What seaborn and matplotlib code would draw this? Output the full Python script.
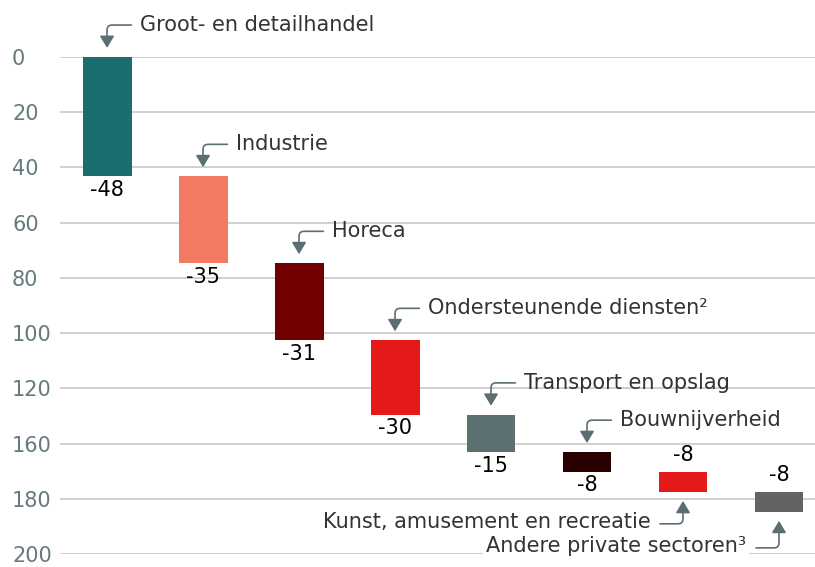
import numpy as np
import matplotlib
matplotlib.use("Agg")
import matplotlib.pyplot as plt
import seaborn as sns

sns.set_style("white")
plt.rcParams['font.family'] = ['DejaVu Sans']

# Data
sectors = ['Groot- en detailhandel', 'Industrie', 'Horeca', 'Ondersteunende diensten²',
           'Transport en opslag', 'Bouwnijverheid', 'Kunst, amusement en recreatie',
           'Andere private sectoren³']
values = [-48, -35, -31, -30, -15, -8, -8, -8]
colors = ['#1b6e6e', '#f27a62', '#720000', '#e3191b', '#5c6f71', '#2b0000', '#e3191b', '#636363']
tick_labels = ['0', '20', '40', '60', '80', '100', '120', '160', '180', '200']
# which side the sector label / value label sits on
label_below = [False, False, False, False, False, False, True, True]
value_above = [False, False, False, False, False, False, True, True]

mags = np.abs(values)
starts = np.concatenate([[0], np.cumsum(mags)[:-1]])
ends = starts + mags

fig = plt.figure(figsize=(8.15, 5.67), dpi=100)
ax = fig.add_axes([60 / 815, 13 / 567, 755 / 815, 497 / 567])

sns.barplot(x=list(range(len(sectors))), y=mags, bottom=starts, width=0.51,
            color=colors[0], errorbar=None, ax=ax, zorder=2)
for patch, c in zip(ax.patches, colors):
    patch.set_facecolor(c)
    patch.set_edgecolor('none')

ax.set_ylim(200, 0)
ax.set_xlim(-0.49, len(sectors) - 0.625)
ax.set_yticks(np.linspace(0, 200, len(tick_labels)))
ax.set_yticklabels(tick_labels)
ax.set_xticks([])
ax.set_xlabel('')
ax.set_ylabel('')
ax.yaxis.grid(True, color='#c8c8c8', linewidth=1.2, zorder=0)
ax.set_axisbelow(True)
for s in ax.spines.values():
    s.set_visible(False)
ax.tick_params(axis='y', length=0, pad=34.5, labelsize=15, labelcolor='#647a7d')
for t in ax.get_yticklabels():
    t.set_ha('left')

FS = 15
arrow_color = '#5b6f73'
aprops = dict(arrowstyle='-|>,head_length=0.6,head_width=0.36', mutation_scale=12,
              color=arrow_color, lw=1.2, shrinkA=0, shrinkB=6.5,
              connectionstyle='angle,angleA=0,angleB=90,rad=5')

for i, name in enumerate(sectors):
    if not label_below[i]:
        ax.annotate('', xy=(i, starts[i]), xytext=(17.5, 23), textcoords='offset points',
                    arrowprops=aprops, annotation_clip=False)
        ax.annotate(name, xy=(i, starts[i]), xytext=(24, 23), textcoords='offset points',
                    ha='left', va='center', fontsize=FS, color='#333333', annotation_clip=False)
    else:
        dy = -23 if i == 6 else -26
        ax.annotate('', xy=(i, ends[i]), xytext=(-16.5, dy), textcoords='offset points',
                    arrowprops=aprops, annotation_clip=False)
        ax.annotate(name, xy=(i, ends[i]), xytext=(-23.5, dy + 1), textcoords='offset points',
                    ha='right', va='center', fontsize=FS, color='#333333', annotation_clip=False,
                    bbox=dict(boxstyle='square,pad=0.15', fc='white', ec='none'))

for i, v in enumerate(values):
    if value_above[i]:
        ax.annotate(str(v), xy=(i, starts[i]), xytext=(0, 5), textcoords='offset points',
                    ha='center', va='bottom', fontsize=FS, color='black')
    else:
        ax.annotate(str(v), xy=(i, ends[i]), xytext=(0, -2.5), textcoords='offset points',
                    ha='center', va='top', fontsize=FS, color='black')

fig.savefig('out.png', dpi=100)
